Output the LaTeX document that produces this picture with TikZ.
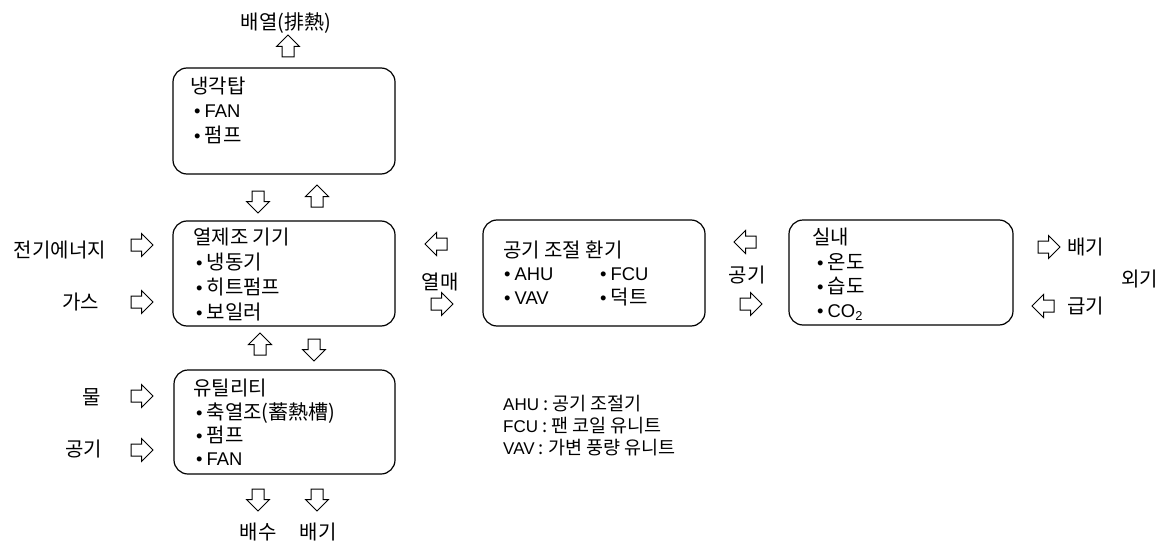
\documentclass[tikz,border=0pt]{standalone}
\usepackage{fontspec}
\setmainfont{Noto Sans CJK KR}
\newfontfamily\latfont[Scale=0.92]{Liberation Sans}
\usetikzlibrary{shapes.arrows}
\newcommand{\bu}{{\latfont\symbol{"2022}}\hspace{4pt}}
\newcommand{\lat}[1]{{\latfont #1}}
\tikzset{
  box/.style={draw, rounded corners=14pt, line width=1.2pt, inner sep=0pt},
  blk/.style={single arrow, draw, line width=1pt, minimum height=22pt,
    inner sep=5.5pt, single arrow head extend=5.5pt, anchor=center},
  txt/.style={inner sep=0pt, anchor=west, font=\fontsize{20}{24}\selectfont,
    text height=18pt, text depth=2.5pt},
  ctxt/.style={txt, anchor=center},
  leg/.style={inner sep=0pt, anchor=west, font=\fontsize{18.5}{22}\selectfont,
    text height=16.5pt, text depth=2.3pt},
}
\begin{document}
\begin{tikzpicture}[x=1pt, y=-1pt]
\useasboundingbox (0,0) rectangle (1170,543);

% boxes
\node[box, minimum width=222pt, minimum height=106pt] (ct) at (284,121) {};
\node[box, minimum width=222pt, minimum height=105pt] (hp) at (284,273.5) {};
\node[box, minimum width=221pt, minimum height=104pt] (ut) at (284.5,422) {};
\node[box, minimum width=222pt, minimum height=106pt] (ac) at (594,273) {};
\node[box, minimum width=224pt, minimum height=105pt] (rm) at (901,272.5) {};

% cooling tower
\node[ctxt] (exh) at (286,22) {배열(排熱)};
\node[blk, shape border rotate=90] (a1) at (288,49) {};
\node[txt] (ct0) at (190,86) {냉각탑};
\node[txt] (ct1) at (194,110) {\bu\lat{FAN}};
\node[txt] (ct2) at (194,135) {\bu 펌프};
\node[blk, shape border rotate=270] (a2) at (258,199) {};
\node[blk, shape border rotate=90] (a3) at (317,199) {};

% heat production
\node[txt] (hp0) at (193,237) {열제조 기기};
\node[txt] (hp1) at (196,262) {\bu 냉동기};
\node[txt] (hp2) at (196,287) {\bu 히트펌프};
\node[txt] (hp3) at (196,312) {\bu 보일러};
\node[txt, anchor=east] (el) at (106,250) {전기에너지};
\node[blk] (a4) at (139,245) {};
\node[txt, anchor=east] (gas) at (99,302) {가스};
\node[blk] (a5) at (139,302) {};
\node[blk, shape border rotate=90] (a6) at (260,347) {};
\node[blk, shape border rotate=270] (a7) at (314,347) {};

% heat medium
\node[blk, shape border rotate=180] (a8) at (439,244) {};
\node[ctxt] (hm) at (440,282) {열매};
\node[blk] (a9) at (439,304) {};

% utility
\node[txt] (ut0) at (193,388) {유틸리티};
\node[txt] (ut1) at (196,412) {\bu 축열조(蓄熱槽)};
\node[txt] (ut2) at (196,435) {\bu 펌프};
\node[txt] (ut3) at (196,458) {\bu\lat{FAN}};
\node[txt, anchor=east] (wt) at (101,397) {물};
\node[blk] (a10) at (139,396) {};
\node[txt, anchor=east] (air1) at (102,449) {공기};
\node[blk] (a11) at (139,450) {};
\node[blk, shape border rotate=270] (a12) at (258,497) {};
\node[blk, shape border rotate=270] (a13) at (317,497) {};
\node[ctxt] (drn) at (258,532) {배수};
\node[ctxt] (ex2) at (318,532) {배기};

% air conditioning
\node[txt] (ac0) at (503,250) {공기 조절 환기};
\node[txt] (ac1) at (504,273) {\bu\lat{AHU}};
\node[txt] (ac2) at (504,297) {\bu\lat{VAV}};
\node[txt] (ac3) at (600,273) {\bu\lat{FCU}};
\node[txt] (ac4) at (600,297) {\bu 덕트};

% air between
\node[blk, shape border rotate=180] (a14) at (748,242) {};
\node[ctxt] (air2) at (747,275) {공기};
\node[blk] (a15) at (748,304) {};

% room
\node[txt] (rm0) at (812,237) {실내};
\node[txt] (rm1) at (817,262) {\bu 온도};
\node[txt] (rm2) at (817,286) {\bu 습도};
\node[txt] (rm3) at (817,310) {\bu\lat{CO\textsubscript{2}}};

% outside
\node[blk] (a16) at (1046,247) {};
\node[txt] (ex3) at (1067,247) {배기};
\node[txt] (oa) at (1121,279) {외기};
\node[blk, shape border rotate=180] (a17) at (1046,306) {};
\node[txt] (sa) at (1067,306) {급기};

% legend
\node[leg] (l1) at (503,403) {\lat{AHU} : 공기 조절기};
\node[leg] (l2) at (503,425) {\lat{FCU} : 팬 코일 유니트};
\node[leg] (l3) at (503,447) {\lat{VAV} : 가변 풍량 유니트};
\end{tikzpicture}
\end{document}
